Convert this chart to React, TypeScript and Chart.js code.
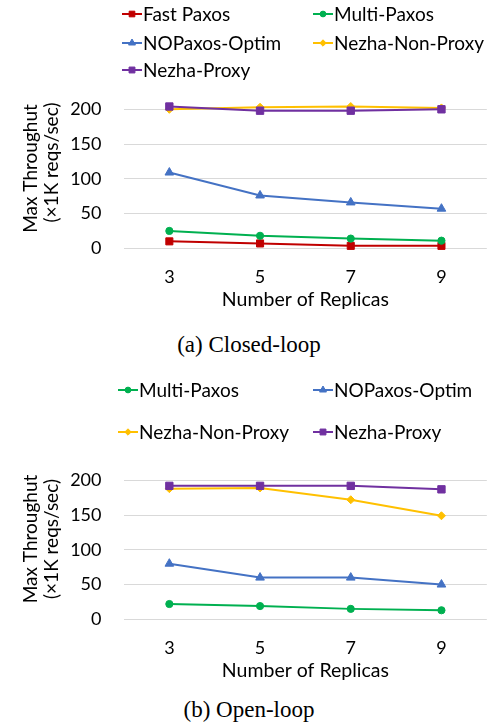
import React, { useEffect, useRef } from 'react';
import { Chart, registerables } from 'chart.js';
import { drawPoint } from 'chart.js/helpers';

Chart.register(...registerables);

// ---------- data ----------
const replicas = ['3', '5', '7', '9'];
const yTickValues = [0, 50, 100, 150, 200];

const closedFastPaxos = [10, 7, 3.5, 3.5];
const closedMultiPaxos = [25, 18, 14, 11];
const closedNOPaxos = [109, 76, 66, 57];
const closedNezhaNonProxy = [200, 203, 204, 202];
const closedNezhaProxy = [204, 198, 198, 200];

const openMultiPaxos = [22, 19, 15, 13];
const openNOPaxos = [80, 60, 60, 50];
const openNezhaNonProxy = [188, 189, 172, 149];
const openNezhaProxy = [192, 192, 192, 187];

const xTitle = 'Number of Replicas';
const yTitleLines = ['Max Throughut', '(\u00d71K reqs/sec)'];

// ---------- styles ----------
const FONT = 'Lato';
const SERIES_STYLE: Record<string, { color: string; pointStyle: string; radius: number }> = {
  'Fast Paxos': { color: '#C00000', pointStyle: 'rect', radius: 5 },
  'Multi-Paxos': { color: '#00B050', pointStyle: 'circle', radius: 3.6 },
  'NOPaxos-Optim': { color: '#4472C4', pointStyle: 'triangle', radius: 5 },
  'Nezha-Non-Proxy': { color: '#FFC000', pointStyle: 'rectRot', radius: 4 },
  'Nezha-Proxy': { color: '#7030A0', pointStyle: 'rect', radius: 5.2 },
};

function makeDatasets(series: [string, number[]][]) {
  const n = series.length;
  return series.map(([label, data], i) => {
    const s = SERIES_STYLE[label];
    return {
      label,
      data,
      borderColor: s.color,
      backgroundColor: s.color,
      pointBackgroundColor: s.color,
      pointBorderColor: s.color,
      pointStyle: s.pointStyle,
      pointRadius: s.radius,
      pointHoverRadius: s.radius,
      pointBorderWidth: 1,
      borderWidth: 2,
      tension: 0,
      clip: false,
      order: n - i,
    };
  });
}

const gridLegendPlugin = {
  id: 'gridLegend',
  afterDraw(chart: any, _args: any, opts: any) {
    const ctx = chart.ctx as CanvasRenderingContext2D;
    const datasets = chart.data.datasets;
    ctx.save();
    datasets.forEach((d: any, i: number) => {
      const col = i % opts.cols.length;
      const row = Math.floor(i / opts.cols.length);
      const x = opts.cols[col];
      const y = opts.rows[row];
      ctx.strokeStyle = d.borderColor;
      ctx.lineWidth = 2;
      ctx.beginPath();
      ctx.moveTo(x, y);
      ctx.lineTo(x + 20, y);
      ctx.stroke();
      ctx.fillStyle = d.borderColor;
      ctx.strokeStyle = d.borderColor;
      ctx.lineWidth = 1;
      drawPoint(ctx, { pointStyle: d.pointStyle, radius: d.pointRadius * 0.8, borderWidth: 1, rotation: 0 } as any, x + 10, y);
      ctx.fillStyle = '#000';
      ctx.font = `19px ${FONT}`;
      ctx.textAlign = 'left';
      ctx.textBaseline = 'middle';
      ctx.fillText(d.label, x + 21, y + 1);
    });
    // rotated y-axis title
    ctx.fillStyle = '#000';
    ctx.font = `19px ${FONT}`;
    ctx.textAlign = 'center';
    ctx.textBaseline = 'alphabetic';
    opts.yTitle.lines.forEach((line: string, i: number) => {
      ctx.save();
      ctx.translate(opts.yTitle.x[i], opts.yTitle.y[i]);
      ctx.rotate(-Math.PI / 2);
      ctx.fillText(line, 0, 0);
      ctx.restore();
    });
    ctx.restore();
  },
};

function LineChart(props: {
  datasets: any[];
  legendCols: number[];
  legendRows: number[];
  yTitleY: number[];
}) {
  const ref = useRef<HTMLCanvasElement | null>(null);
  useEffect(() => {
    if (!ref.current) return;
    const chart = new Chart(ref.current, {
      type: 'line',
      data: { labels: replicas, datasets: props.datasets },
      plugins: [gridLegendPlugin as any],
      options: {
        animation: false,
        responsive: false,
        devicePixelRatio: 1,
        layout: { padding: { top: 109.3, left: 0, right: 0, bottom: 0 } },
        plugins: {
          legend: { display: false },
          tooltip: { enabled: false },
          gridLegend: {
            cols: props.legendCols,
            rows: props.legendRows,
            yTitle: { lines: yTitleLines, x: [37, 58], y: props.yTitleY },
          },
        } as any,
        scales: {
          x: {
            type: 'category',
            offset: true,
            grid: { display: false, drawTicks: false },
            border: { display: false },
            ticks: { color: '#000', font: { family: FONT, size: 18 }, padding: 18 },
            title: {
              display: true,
              text: xTitle,
              color: '#000',
              font: { family: FONT, size: 19.5 },
              padding: { top: 0, bottom: 8.3 },
            },
            afterFit: (scale: any) => {
              scale.height = 71.7;
            },
          },
          y: {
            min: 0,
            max: 200,
            afterBuildTicks: (scale: any) => {
              scale.ticks = yTickValues.map((v) => ({ value: v }));
            },
            grid: { color: '#D9D9D9', lineWidth: 1, drawTicks: false },
            border: { display: false },
            ticks: { color: '#000', font: { family: FONT, size: 18 }, padding: 22.5 },
            afterFit: (scale: any) => {
              scale.width = 124;
            },
          },
        },
      } as any,
    });
    return () => chart.destroy();
  }, []);
  return <canvas ref={ref} width={493} height={320} style={{ display: 'block', width: 493, height: 320 }} />;
}

const captionStyle: React.CSSProperties = {
  position: 'absolute',
  left: 149,
  width: 200,
  textAlign: 'center',
  fontFamily: '"Liberation Serif", "Times New Roman", serif',
  fontSize: 23,
  lineHeight: '23px',
  color: '#000',
  whiteSpace: 'nowrap',
};

export default function App() {
  const closed = makeDatasets([
    ['Fast Paxos', closedFastPaxos],
    ['Multi-Paxos', closedMultiPaxos],
    ['NOPaxos-Optim', closedNOPaxos],
    ['Nezha-Non-Proxy', closedNezhaNonProxy],
    ['Nezha-Proxy', closedNezhaProxy],
  ]);
  const open = makeDatasets([
    ['Multi-Paxos', openMultiPaxos],
    ['NOPaxos-Optim', openNOPaxos],
    ['Nezha-Non-Proxy', openNezhaNonProxy],
    ['Nezha-Proxy', openNezhaProxy],
  ]);
  return (
    <div style={{ position: 'absolute', left: 0, top: 0, width: 493, height: 726, overflow: 'hidden', background: '#fff' }}>
      <div style={{ position: 'absolute', left: 0, top: 0 }}>
        <LineChart datasets={closed} legendCols={[122, 313]} legendRows={[14, 43, 70]} yTitleY={[168.5, 162.5]} />
      </div>
      <div style={{ ...captionStyle, top: 332.7 }}>(a) Closed-loop</div>
      <div style={{ position: 'absolute', left: 0, top: 371 }}>
        <LineChart datasets={open} legendCols={[118, 313]} legendRows={[19, 61]} yTitleY={[168, 168]} />
      </div>
      <div style={{ ...captionStyle, top: 697.7 }}>(b) Open-loop</div>
    </div>
  );
}
